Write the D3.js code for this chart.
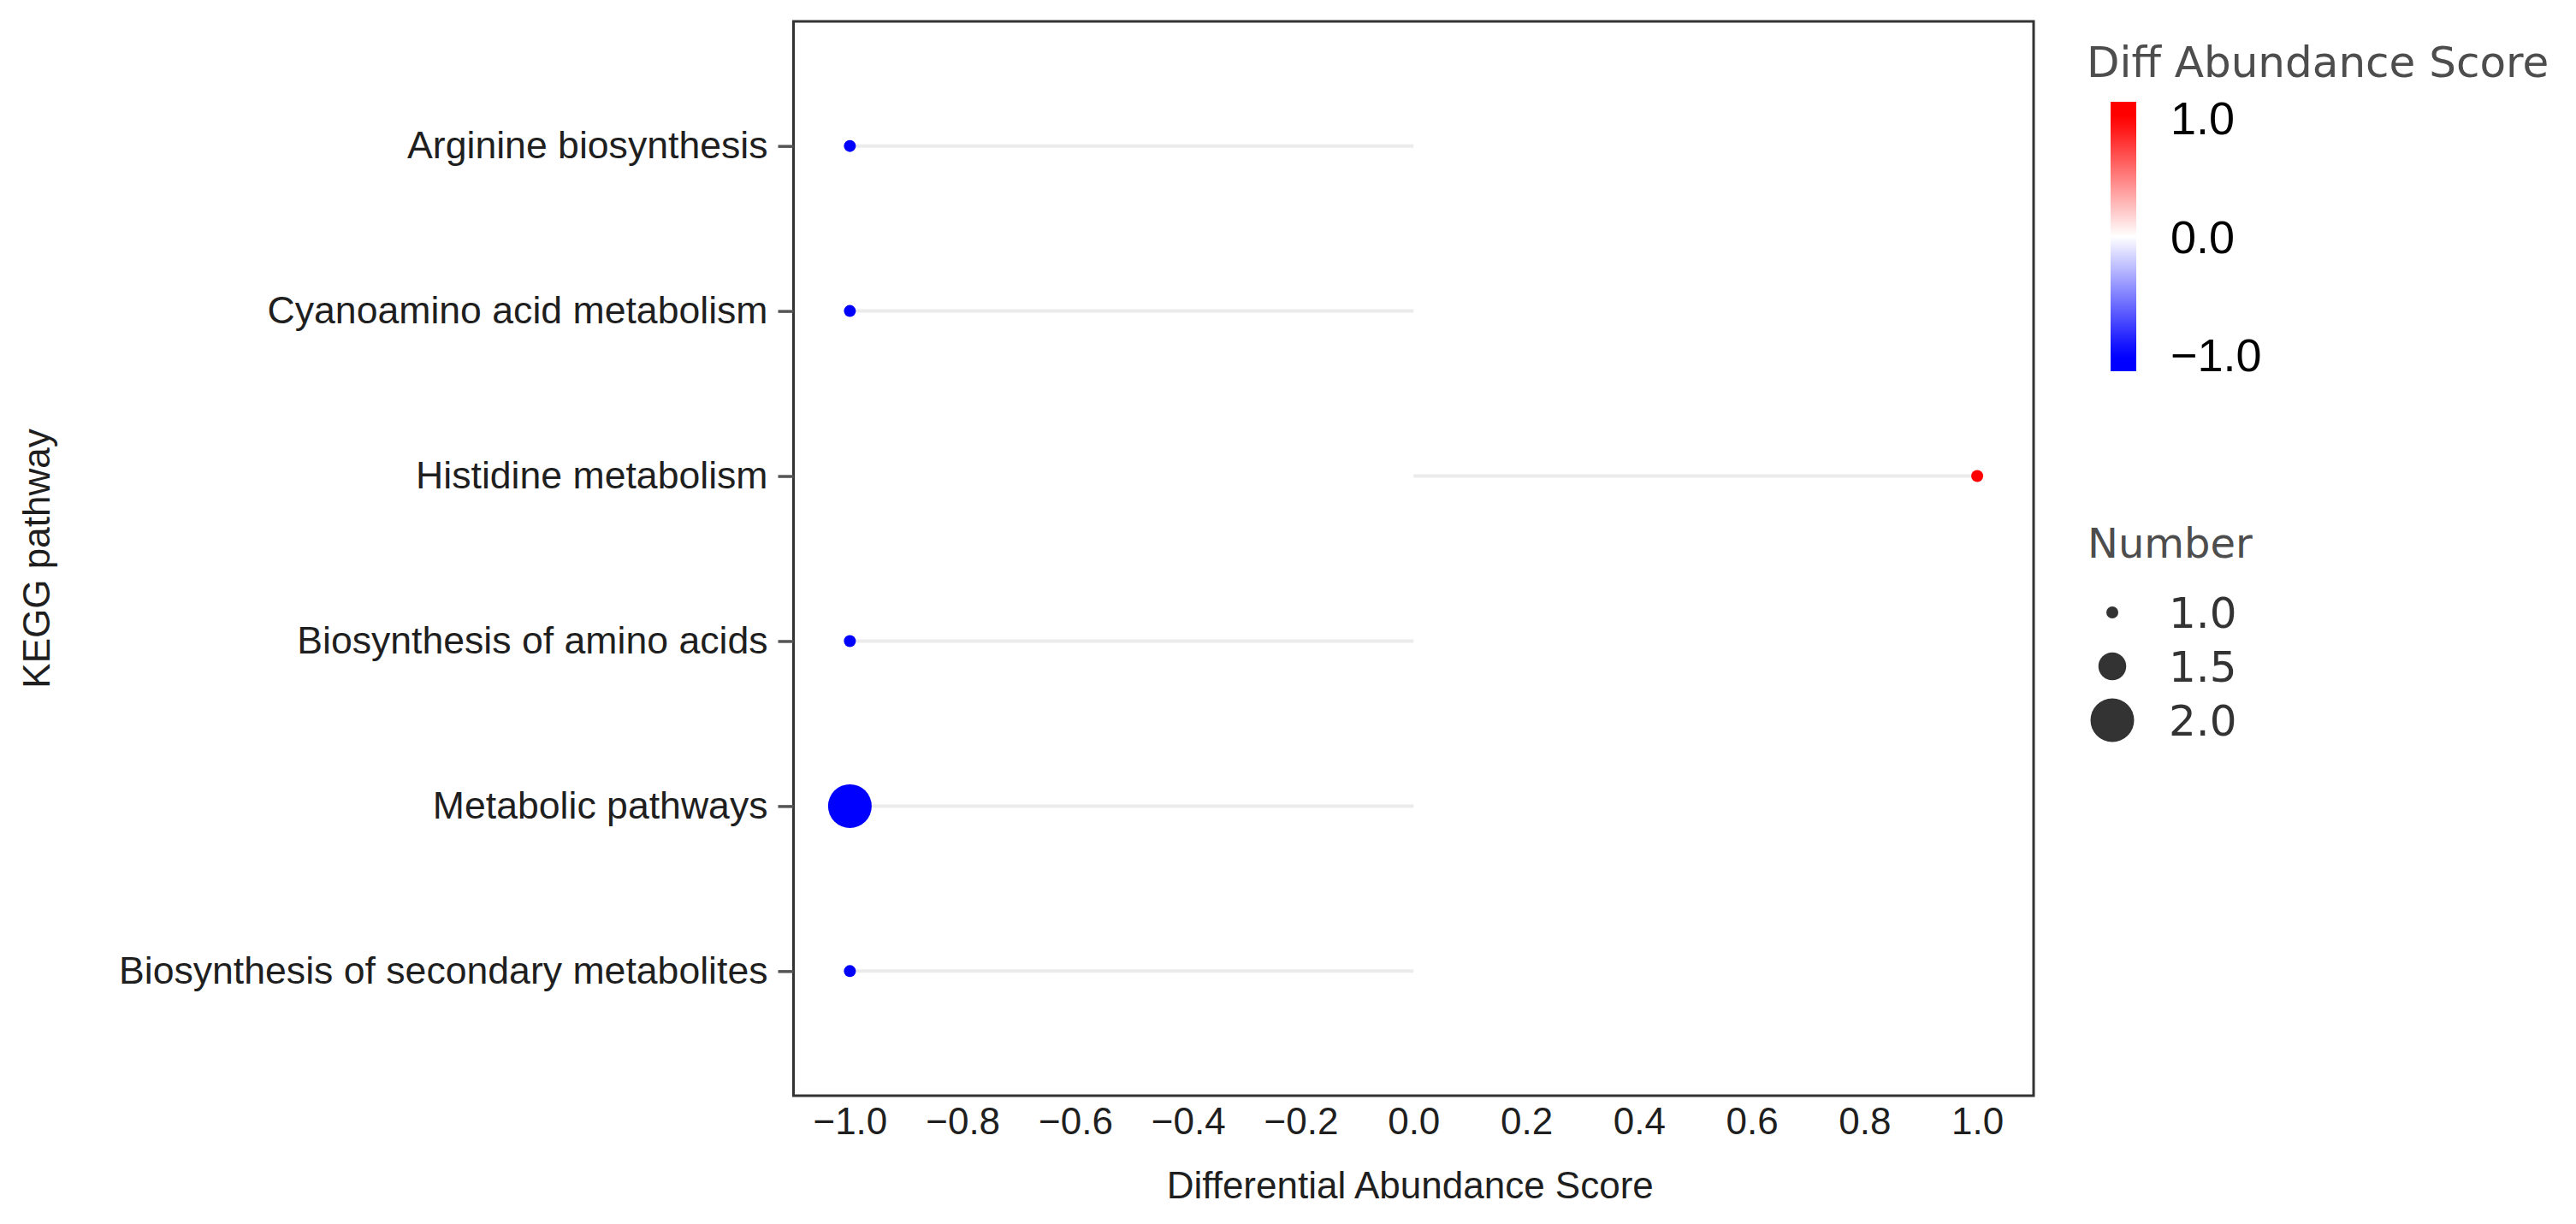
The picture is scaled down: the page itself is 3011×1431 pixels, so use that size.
<!DOCTYPE html>
<html>
<head>
<meta charset="utf-8">
<script src="https://cdn.jsdelivr.net/npm/d3@7"></script>
<style>
  html, body { margin: 0; padding: 0; background: #ffffff; }
  svg { display: block; }
</style>
</head>
<body>
<script>
// ---- Data ----
const pathways = [
  "Arginine biosynthesis",
  "Cyanoamino acid metabolism",
  "Histidine metabolism",
  "Biosynthesis of amino acids",
  "Metabolic pathways",
  "Biosynthesis of secondary metabolites"
];
const scores = [-1, -1, 1, -1, -1, -1];
const numbers = [1, 1, 1, 1, 2, 1];
const xTickValues = [-1.0, -0.8, -0.6, -0.4, -0.2, 0.0, 0.2, 0.4, 0.6, 0.8, 1.0];
const colorTickValues = [1.0, 0.0, -1.0];
const sizeLegendValues = [1.0, 1.5, 2.0];

const W = 3011, H = 1431;
const panel = { left: 927.5, right: 2377, top: 25, bottom: 1281 };

const svg = d3.select("body").append("svg")
  .attr("width", W).attr("height", H)
  .style("font-family", "'Liberation Sans', Arial, sans-serif");

svg.append("rect").attr("width", W).attr("height", H).attr("fill", "#ffffff");

const x = d3.scaleLinear().domain([-1.1, 1.1]).range([panel.left, panel.right]);
const y = d3.scalePoint().domain(pathways).range([panel.top, panel.bottom]).padding(0.755);
const color = d3.scaleLinear().domain([-1, 0, 1]).range(["#0000ff", "#ffffff", "#ff0000"]).clamp(true);
const rScale = d3.scaleLinear().domain([1, 2]).range([7, 25.5]);

const data = pathways.map((p, i) => ({ p, s: scores[i], n: numbers[i] }));

// Lollipop stems
svg.append("g").selectAll("line").data(data).join("line")
  .attr("x1", x(0)).attr("x2", d => x(d.s))
  .attr("y1", d => y(d.p)).attr("y2", d => y(d.p))
  .attr("stroke", "#ebebeb").attr("stroke-width", 4);

// Dots
svg.append("g").selectAll("circle").data(data).join("circle")
  .attr("cx", d => x(d.s)).attr("cy", d => y(d.p))
  .attr("r", d => rScale(d.n))
  .attr("fill", d => color(d.s));

// Panel border
svg.append("rect")
  .attr("x", panel.left).attr("y", panel.top)
  .attr("width", panel.right - panel.left).attr("height", panel.bottom - panel.top)
  .attr("fill", "none").attr("stroke", "#333333").attr("stroke-width", 3);

// X axis
const fmt = d3.format(".1f");
const xAxis = svg.append("g")
  .attr("transform", `translate(0,${panel.bottom})`)
  .call(d3.axisBottom(x).tickValues(xTickValues).tickSize(0).tickPadding(14)
    .tickFormat(d => fmt(d).replace("-", "\u2212")));
xAxis.select(".domain").remove();
xAxis.selectAll("text").attr("font-size", 44).attr("fill", "#1f1f1f")
  .attr("font-family", "'Liberation Sans', Arial, sans-serif");

// Y axis
const yAxis = svg.append("g")
  .attr("transform", `translate(${panel.left},0)`)
  .call(d3.axisLeft(y).tickSize(18).tickPadding(12));
yAxis.select(".domain").remove();
yAxis.selectAll(".tick line").attr("stroke", "#555555").attr("stroke-width", 3.5);
yAxis.selectAll("text").attr("font-size", 44.6).attr("fill", "#1f1f1f")
  .attr("font-family", "'Liberation Sans', Arial, sans-serif");

// Axis titles
svg.append("text")
  .attr("x", (panel.left + panel.right) / 2 - 4).attr("y", 1401)
  .attr("text-anchor", "middle").attr("font-size", 44).attr("fill", "#1f1f1f")
  .text("Differential Abundance Score");

svg.append("text")
  .attr("transform", `translate(58,${(panel.top + panel.bottom) / 2}) rotate(-90)`)
  .attr("text-anchor", "middle").attr("font-size", 44).attr("fill", "#1f1f1f")
  .text("KEGG pathway");

// ---- Colorbar legend ----
const cb = { x: 2467, w: 30, top: 119, bottom: 434 };
const cbScale = d3.scaleLinear().domain([-1, 1]).range([415, 138]);
const defs = svg.append("defs");
const grad = defs.append("linearGradient").attr("id", "cbgrad")
  .attr("x1", 0).attr("y1", 1).attr("x2", 0).attr("y2", 0);
const stops = d3.range(0, 1.0001, 0.05);
grad.selectAll("stop").data(stops).join("stop")
  .attr("offset", t => t)
  .attr("stop-color", t => color(cbScale.invert(cb.bottom - t * (cb.bottom - cb.top))));

svg.append("text")
  .attr("x", 2439).attr("y", 90)
  .attr("font-family", "'DejaVu Sans', sans-serif").attr("font-size", 50)
  .attr("fill", "#4d4d4d").text("Diff Abundance Score");

svg.append("rect")
  .attr("x", cb.x).attr("y", cb.top).attr("width", cb.w).attr("height", cb.bottom - cb.top)
  .attr("fill", "url(#cbgrad)");

svg.append("g").selectAll("text").data(colorTickValues).join("text")
  .attr("x", 2537).attr("y", d => cbScale(d))
  .attr("dy", "0.36em")
  .attr("font-size", 54).attr("fill", "#000000")
  .text(d => fmt(d).replace("-", "\u2212"));

// ---- Size legend ----
svg.append("text")
  .attr("x", 2440).attr("y", 652)
  .attr("font-family", "'DejaVu Sans', sans-serif").attr("font-size", 48)
  .attr("fill", "#4d4d4d").text("Number");

const sizeRowY = d3.scalePoint().domain(sizeLegendValues).range([716, 842]);
const sl = svg.append("g");
sl.selectAll("circle").data(sizeLegendValues).join("circle")
  .attr("cx", 2469).attr("cy", d => sizeRowY(d)).attr("r", d => rScale(d))
  .attr("fill", "#333333");
sl.selectAll("text").data(sizeLegendValues).join("text")
  .attr("x", 2535).attr("y", d => sizeRowY(d)).attr("dy", "0.36em")
  .attr("font-family", "'DejaVu Sans', sans-serif").attr("font-size", 50)
  .attr("fill", "#333333").text(d => fmt(d));
</script>
</body>
</html>
